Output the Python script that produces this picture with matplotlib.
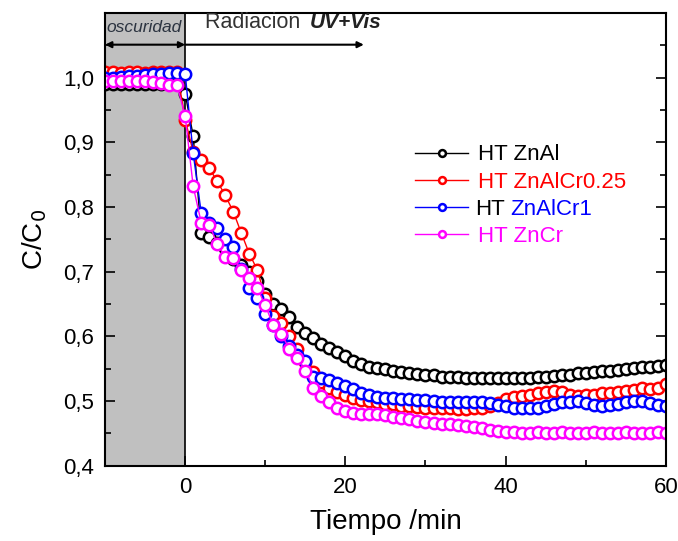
import numpy as np
import matplotlib
matplotlib.use("Agg")
import matplotlib.pyplot as plt
from matplotlib.ticker import MultipleLocator, FuncFormatter

plt.rcParams['font.family'] = ['Liberation Sans', 'DejaVu Sans']

# time in minutes (dark period -10..-1, then UV+Vis irradiation 0..60)
t = list(range(-10, 61))

zn_al = [0.990, 0.990, 0.990, 0.990, 0.990, 0.990, 0.990, 0.990, 0.990, 0.990,
         0.975, 0.910, 0.760, 0.753, 0.745, 0.736, 0.720, 0.710, 0.700, 0.685,
         0.665, 0.650, 0.642, 0.630, 0.615, 0.605, 0.597, 0.589, 0.582, 0.576,
         0.570, 0.562, 0.557, 0.553, 0.551, 0.549, 0.547, 0.545, 0.543, 0.542,
         0.541, 0.540, 0.538, 0.537, 0.537, 0.536, 0.536, 0.536, 0.535, 0.535,
         0.536, 0.535, 0.536, 0.536, 0.537, 0.537, 0.539, 0.540, 0.541, 0.543,
         0.544, 0.545, 0.546, 0.547, 0.548, 0.549, 0.551, 0.552, 0.553, 0.555,
         0.556]

zn_al_cr025 = [1.008, 1.008, 1.007, 1.008, 1.008, 1.007, 1.008, 1.008, 1.008, 1.008,
               0.935, 0.885, 0.873, 0.860, 0.840, 0.818, 0.793, 0.760, 0.728, 0.703,
               0.660, 0.632, 0.620, 0.600, 0.580, 0.560, 0.545, 0.530, 0.521, 0.514,
               0.509, 0.505, 0.502, 0.500, 0.498, 0.496, 0.495, 0.493, 0.492, 0.491,
               0.490, 0.490, 0.489, 0.489, 0.488, 0.488, 0.489, 0.490, 0.493, 0.497,
               0.503, 0.507, 0.508, 0.509, 0.512, 0.514, 0.515, 0.514, 0.509, 0.508,
               0.509, 0.510, 0.512, 0.513, 0.514, 0.515, 0.517, 0.520, 0.518, 0.520,
               0.527]

zn_al_cr1 = [1.000, 1.000, 1.001, 1.002, 1.003, 1.004, 1.005, 1.006, 1.007, 1.007,
             1.006, 0.883, 0.791, 0.776, 0.768, 0.751, 0.738, 0.705, 0.675, 0.660,
             0.635, 0.617, 0.600, 0.585, 0.572, 0.562, 0.538, 0.535, 0.532, 0.528,
             0.524, 0.519, 0.513, 0.509, 0.506, 0.505, 0.505, 0.504, 0.503, 0.502,
             0.501, 0.500, 0.499, 0.498, 0.498, 0.498, 0.498, 0.499, 0.497, 0.494,
             0.492, 0.490, 0.489, 0.489, 0.490, 0.493, 0.496, 0.498, 0.499, 0.500,
             0.497, 0.494, 0.493, 0.494, 0.496, 0.498, 0.500, 0.500, 0.497, 0.494,
             0.493]

zn_cr = [0.995, 0.995, 0.995, 0.995, 0.995, 0.995, 0.994, 0.992, 0.989, 0.988,
         0.940, 0.832, 0.776, 0.773, 0.743, 0.723, 0.722, 0.702, 0.691, 0.675,
         0.648, 0.617, 0.604, 0.581, 0.566, 0.547, 0.521, 0.508, 0.498, 0.490,
         0.485, 0.482, 0.480, 0.480, 0.480, 0.478, 0.476, 0.474, 0.472, 0.470,
         0.468, 0.466, 0.465, 0.464, 0.463, 0.462, 0.460, 0.458, 0.456, 0.454,
         0.452, 0.452, 0.451, 0.451, 0.452, 0.451, 0.451, 0.452, 0.451, 0.451,
         0.451, 0.452, 0.451, 0.451, 0.451, 0.452, 0.451, 0.451, 0.451, 0.452,
         0.451]

series = [
    (zn_al, 'black', 'HT ZnAl'),
    (zn_al_cr025, '#ff0000', 'HT ZnAlCr0.25'),
    (zn_al_cr1, '#0000ff', 'HT ZnAlCr1'),
    (zn_cr, '#ff00ff', 'HT ZnCr'),
]

fig = plt.figure(figsize=(6.78, 5.41), dpi=100)
ax = fig.add_axes([0.155, 0.139, 0.827, 0.837])

# dark period shading
ax.axvspan(-10, 0, facecolor='#c0c0c0', edgecolor='black', lw=1.2, zorder=0)

for y, c, lab in series:
    ax.plot(t, y, '-', color=c, lw=1, marker='o', ms=8.2, mfc='white',
            mec=c, mew=1.8, label=lab)

ax.set_xlim(-10, 60)
ax.set_ylim(0.4, 1.1)
ax.xaxis.set_minor_locator(MultipleLocator(10))
ax.yaxis.set_minor_locator(MultipleLocator(0.05))
ax.set_yticks([0.4, 0.5, 0.6, 0.7, 0.8, 0.9, 1.0])
ax.set_xticks([0, 20, 40, 60])
ax.yaxis.set_major_formatter(FuncFormatter(lambda v, p: f"{v:.1f}".replace('.', ',')))
ax.tick_params(which='both', direction='in', labelsize=16, right=True, top=False,
               width=1.2, pad=8)
ax.tick_params(which='major', length=7)
ax.tick_params(which='minor', length=4)
for s in ax.spines.values():
    s.set_linewidth(1.5)

ax.set_xlabel('Tiempo /min', fontsize=20, labelpad=8)
ax.set_ylabel('C/C$_0$', fontsize=20, labelpad=10)

# annotations: dark / irradiation
ax.text(-9.8, 1.077, 'oscuridad', fontsize=12.5, style='italic', color='#2b3340',
        va='center', ha='left')
ax.text(2.5, 1.085, 'Radiacion ', fontsize=15.5, color='#333333', va='center', ha='left')
ax.text(15.5, 1.085, 'UV+Vis', fontsize=15, color='#222222', va='center', ha='left',
        weight='bold', style='italic')
ax.annotate('', xy=(-10, 1.051), xytext=(0, 1.051),
            arrowprops=dict(arrowstyle='<|-|>', color='black', lw=1.5,
                            mutation_scale=9, shrinkA=0, shrinkB=0))
ax.annotate('', xy=(22.3, 1.051), xytext=(0, 1.051),
            arrowprops=dict(arrowstyle='-|>', color='black', lw=1.5,
                            mutation_scale=9, shrinkA=0, shrinkB=0))

leg = ax.legend(loc='upper left', bbox_to_anchor=(0.553, 0.71), frameon=False,
                fontsize=16, markerscale=0.6, handlelength=2.4, handletextpad=0.45,
                labelspacing=0.28, borderpad=0, borderaxespad=0)
for txt, (y, c, lab) in zip(leg.get_texts(), series):
    txt.set_color(c)

# third entry: "HT" black, "ZnAlCr1" blue, drawn as two texts in place of the label
fig.canvas.draw()
renderer = fig.canvas.get_renderer()
x_left = leg.get_texts()[0].get_window_extent(renderer).x0 - 3
y_bot = leg.get_texts()[2].get_window_extent(renderer).y0
tmp_a = fig.text(0, 0, 'HT ZnAlCr1', fontsize=16)
tmp_b = fig.text(0, 0, 'ZnAlCr1', fontsize=16)
gap = tmp_a.get_window_extent(renderer).width - tmp_b.get_window_extent(renderer).width
tmp_a.remove()
tmp_b.remove()
leg.get_texts()[2].set_text('')
W, H = fig.bbox.width, fig.bbox.height
fig.text(x_left / W, y_bot / H, 'HT', fontsize=16, color='black',
         ha='left', va='bottom')
fig.text((x_left + gap - 1) / W, y_bot / H, 'ZnAlCr1', fontsize=16,
         color='#0000ff', ha='left', va='bottom')

fig.savefig('out.png', dpi=100)
